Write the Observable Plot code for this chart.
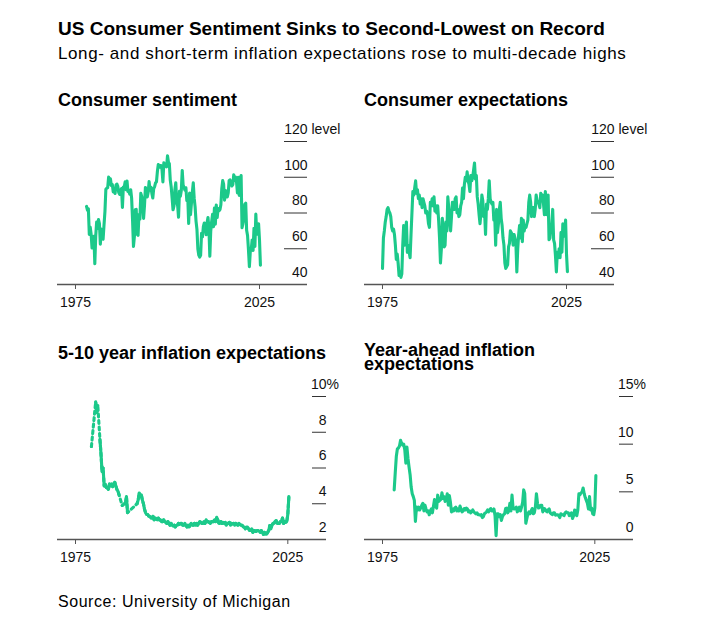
<!DOCTYPE html>
<html>
<head>
<meta charset="utf-8">
<script src="https://cdn.jsdelivr.net/npm/d3@7"></script>
<script src="https://cdn.jsdelivr.net/npm/@observablehq/plot@0.6"></script>
<style>
  body { margin: 0; background: #fff; }
  #root { position: relative; width: 716px; height: 629px; font-family: "Liberation Sans", Arial, sans-serif; color: #000; overflow: hidden; }
  .t { position: absolute; white-space: nowrap; line-height: 1; }
  .p { position: absolute; }
</style>
</head>
<body>
<div id="root">
  <div class="t" style="left:58px;top:19px;font-size:19px;font-weight:bold;">US Consumer Sentiment Sinks to Second-Lowest on Record</div>
  <div class="t" style="left:58px;top:45px;font-size:17px;letter-spacing:0.6px;">Long- and short-term inflation expectations rose to multi-decade highs</div>

  <div class="t" style="left:58px;top:91px;font-size:18px;font-weight:bold;">Consumer sentiment</div>
  <div class="t" style="left:364px;top:91px;font-size:18px;font-weight:bold;">Consumer expectations</div>
  <div class="t" style="left:58px;top:344px;font-size:18px;font-weight:bold;">5-10 year inflation expectations</div>
  <div class="t" style="left:364px;top:342.5px;font-size:18px;font-weight:bold;white-space:normal;width:240px;line-height:14.5px;">Year-ahead inflation expectations</div>

  <div class="p" id="p1" style="left:40px;top:115px;"></div>
  <div class="p" id="p2" style="left:347px;top:115px;"></div>
  <div class="p" id="p3" style="left:40px;top:370px;"></div>
  <div class="p" id="p4" style="left:347px;top:370px;"></div>

  <div class="t" style="left:58px;top:593.5px;font-size:16px;letter-spacing:0.55px;">Source: University of Michigan</div>
</div>
<script>
// ---------------- Data (quarterly readings) ----------------
const xTicks = [1975, 2025];

// Consumer sentiment index, quarterly from 1978 Q1
const sentimentStart = 1978;
const sentimentValues = [
  83.7, 81.6, 82.4, 68.0,
  72.1, 68.1, 60.4, 62.1,
  67.0, 51.7, 67.3, 75.0,
  71.4, 76.3, 74.1, 62.5,
  71.0, 65.7, 65.4, 73.4,
  80.8, 93.3, 93.9, 94.2,
  100.1, 96.1, 99.1, 95.3,
  96.0, 91.8, 92.4, 90.9,
  95.6, 96.2, 94.9, 91.4,
  90.4, 92.4, 93.7, 83.1,
  94.6, 94.7, 97.4, 93.0,
  97.9, 92.0, 92.0, 90.5,
  93.0, 88.3, 76.4, 61.3,
  66.8, 81.8, 82.0, 68.1,
  67.5, 79.2, 76.6, 91.0,
  89.3, 85.6, 77.0, 84.2,
  94.3, 92.6, 89.0, 91.6,
  97.6, 92.7, 94.4, 91.0,
  88.4, 93.7, 94.7, 96.9,
  97.4, 103.2, 107.1, 105.6,
  106.6, 106.5, 104.4, 97.4,
  108.1, 106.8, 107.2, 105.8,
  112.0, 108.5, 107.6, 98.4,
  94.7, 88.4, 81.8, 83.9,
  93.0, 96.9, 86.1, 84.2,
  77.6, 92.1, 89.3, 92.6,
  103.8, 95.6, 94.2, 92.8,
  94.1, 86.9, 89.1, 74.2,
  91.2, 79.1, 85.4, 91.7,
  96.9, 88.3, 83.4, 75.5,
  70.8, 59.8, 56.4, 55.3,
  56.3, 68.7, 66.7, 72.5,
  74.4, 73.6, 67.8, 74.5,
  77.5, 71.5, 55.8, 69.9,
  75.3, 79.3, 72.3, 82.7,
  73.8, 84.5, 77.5, 82.5,
  81.2, 81.9, 84.6, 93.6,
  98.1, 96.1, 87.2, 92.6,
  92.0, 89.0, 91.2, 98.2,
  98.5, 97.1, 95.1, 95.9,
  101.4, 98.2, 100.1, 97.5,
  91.2, 100.0, 89.8, 99.3,
  101.0, 71.8, 74.1, 76.9,
  84.9, 85.5, 70.3, 67.4,
  59.4, 50.0, 58.6, 59.7,
  64.9, 59.0, 71.5, 61.3,
  79.4, 68.2, 70.1, 74.0,
  64.7, 50.8
];

// Index of consumer expectations, quarterly from 1975 Q1
const expectationsStart = 1975;
const expectationsValues = [
  49, 66, 70, 75,
  78, 82, 83, 81,
  80, 78, 72, 70,
  71, 68, 62, 54,
  57, 52, 45, 47,
  44, 46, 62, 73,
  62, 70, 75, 58,
  62, 58, 55, 68,
  80, 92, 90, 94,
  98, 91, 93, 88,
  90, 85, 88, 83,
  88, 86, 84, 80,
  81, 79, 74, 72,
  86, 84, 88, 84,
  89, 81, 84, 80,
  84, 76, 66, 52,
  60, 77, 72, 61,
  62, 75, 70, 89,
  83, 76, 70, 78,
  86, 84, 82, 88,
  89, 80, 82, 78,
  79, 84, 86, 94,
  88, 96, 100, 98,
  103, 98, 96, 92,
  101, 98, 100, 104,
  108, 99, 101, 89,
  85, 79, 74, 80,
  90, 87, 78, 80,
  68, 85, 82, 88,
  98, 88, 86, 85,
  86, 76, 78, 62,
  82, 69, 74, 82,
  86, 77, 73, 66,
  62, 52, 49, 50,
  51, 61, 63, 70,
  69, 68, 62, 68,
  66, 63, 47, 60,
  68, 73, 66, 77,
  64, 76, 70, 73,
  72, 74, 76, 86,
  90, 86, 78, 83,
  83, 78, 82, 90,
  87, 86, 85, 83,
  91, 88, 90, 85,
  79, 92, 79, 89,
  90, 65, 66, 72,
  74, 82, 65, 63,
  56, 47, 58, 55,
  60, 55, 69, 58,
  74, 67, 70, 76,
  57, 47.2
];

// 5-10 year inflation expectations (%), quarterly from 1978 Q4; null = no survey
const longRunStart = 1978.75;
const longRunValues = [
  7.2,
  null, null, null, 9.7,
  9.1, 9.5, null, 7.6,
  6.8, 5.8, 6.0, 5.0,
  5.1, 4.9, 4.9, 4.8,
  5.1, 5.0, 5.1, 4.95,
  5.1, 5.2, 5.0, 4.8,
  4.7, 4.5, null, null,
  3.9, null, 4.0, 4.0,
  4.4, 3.5, null, null,
  null, null, null, null,
  null, null, 4.0, 4.2,
  4.6, 4.4, 4.5, 4.2,
  4.0, 3.7, 3.5, 3.4,
  3.4, 3.3, 3.3, 3.2,
  3.2, 3.3, 3.1, 3.2,
  3.15, 3.1, 3.2, 3.1,
  3.1, 3.0, 3.0, 3.1,
  3.0, 2.96, 2.9, 3.0,
  2.9, 2.8, 2.9, 2.8,
  2.75, 2.8, 2.7, 2.8,
  2.8, 2.9, 2.85, 2.9,
  2.9, 2.8, 2.8, 2.9,
  2.8, 2.7, 2.8, 2.7,
  2.8, 2.9, 2.8, 2.8,
  2.9, 2.8, 2.9, 2.8,
  2.9, 3.0, 2.96, 2.9,
  2.9, 3.0, 2.9, 3.1,
  3.0, 3.0, 2.96, 2.9,
  3.0, 3.0, 3.0, 3.1,
  3.0, 3.24, 3.1, 2.9,
  2.9, 3.0, 2.9, 2.96,
  2.9, 2.96, 2.8, 2.9,
  2.9, 2.96, 2.8, 2.9,
  2.87, 2.9, 2.8, 2.9,
  2.85, 2.8, 2.9, 2.83,
  2.8, 2.8, 2.7, 2.7,
  2.6, 2.7, 2.7, 2.6,
  2.5, 2.5, 2.6, 2.4,
  2.5, 2.5, 2.45, 2.5,
  2.5, 2.46, 2.4, 2.5,
  2.4, 2.28, 2.4, 2.3,
  2.3, 2.4, 2.5, 2.78,
  2.6, 2.8, 2.9, 2.9,
  3.0, 3.06, 2.9, 2.9,
  2.9, 3.0, 3.0, 3.2,
  2.9, 3.0, 2.96, 3.0,
  3.4, 4.4
];

// Year-ahead inflation expectations (%), quarterly from 1977 Q4
const yearAheadStart = 1977.75;
const yearAheadValues = [
  5.2,
  7.0, 8.7, 9.5, 9.6,
  9.8, 10.4, 10.1, 9.9,
  10.0, 9.4, 8.0, 9.7,
  8.5, 7.6, 6.8, 5.5,
  4.8, 4.5, 4.1, 1.9,
  3.4, 3.1, 3.4, 3.1,
  3.3, 3.6, 3.8, 3.0,
  3.6, 3.2, 2.9, 3.0,
  2.6, 3.0, 3.2, 2.8,
  3.5, 4.2, 3.5, 3.3,
  4.65, 4.0, 4.1, 4.2,
  4.9, 4.3, 4.5, 4.0,
  4.2, 4.8, 3.6, 4.6,
  3.9, 2.9, 3.2, 3.0,
  3.3, 3.4, 3.0, 3.2,
  3.0, 3.5, 3.2, 2.9,
  3.0, 3.25, 3.1, 3.3,
  3.2, 2.9, 3.0, 2.8,
  2.9, 3.1, 2.9, 2.8,
  2.7, 2.8, 2.6, 2.6,
  2.55, 2.6, 2.3, 2.4,
  2.7, 2.8, 2.9, 3.1,
  2.9, 3.1, 3.25, 3.0,
  3.0, 3.2, 2.5, 0.4,
  2.7, 2.7, 2.4, 2.6,
  2.0, 2.4, 2.6, 2.7,
  3.25, 3.3, 2.8, 3.0,
  3.8, 3.0, 4.65, 3.3,
  3.2, 3.25, 3.4, 2.9,
  3.1, 3.4, 3.0, 3.4,
  3.9, 5.2, 4.8, 1.7,
  2.2, 2.7, 2.9, 2.7,
  3.0, 3.25, 2.7, 2.8,
  3.4, 4.8, 3.8, 3.3,
  3.4, 3.6, 3.6, 2.9,
  3.25, 3.2, 3.0, 2.9,
  3.1, 3.2, 2.8, 2.7,
  2.6, 2.8, 2.8, 2.55,
  2.6, 2.6, 2.5, 2.3,
  2.7, 2.6, 2.6, 2.5,
  2.8, 2.9, 2.8, 2.8,
  2.5, 2.6, 2.8, 2.2,
  2.5, 3.1, 3.0, 2.5,
  3.1, 4.8, 4.7, 4.9,
  5.0, 5.4, 4.8, 4.4,
  4.1, 3.8, 3.2, 4.5,
  3.1, 3.3, 2.7, 2.6,
  3.3, 6.7
];

// Y-axis ticks and labels
const sentimentTicks = [40, 60, 80, 100, 120];
const sentimentLabels = ["40", "60", "80", "100", "120"];
const expectationsTicks = [40, 60, 80, 100, 120];
const expectationsLabels = ["40", "60", "80", "100", "120"];
const longRunTicks = [2, 4, 6, 8, 10];
const longRunLabels = ["2", "4", "6", "8", "10"];
const yearAheadTicks = [0, 5, 10, 15];
const yearAheadLabels = ["0", "5", "10", "15"];

// ---------------- Drawing ----------------
const green = "#1cc98a";

function panel({values, start, ticks, labels, unit, unitGap, xDomain, tickLen, marginRight, dotted}) {
  const data = values.map((v, i) => ({x: start + i / 4, y: v}));
  const present = data.filter(d => d.y != null);
  const W = 320, H = 200, mL = 17, mT = 26, mB = 31;
  const frameW = W - mL - marginRight;
  const yDomain = [ticks[0], ticks[ticks.length - 1]];
  return Plot.plot({
    width: W, height: H,
    marginLeft: mL, marginRight, marginTop: mT, marginBottom: mB,
    style: {fontFamily: '"Liberation Sans", Arial, sans-serif', fontSize: "14px", color: "#111", background: "transparent", overflow: "visible"},
    x: {domain: xDomain},
    y: {domain: yDomain, axis: null},
    marks: [
      Plot.ruleY(ticks.slice(1), {insetLeft: frameW - tickLen, stroke: "#333", strokeWidth: 1}),
      Plot.ruleY([ticks[0]], {stroke: "#555", strokeWidth: 1.3}),
      Plot.text(ticks, {y: d => d, text: labels, frameAnchor: "right", textAnchor: "end", dy: -12, fill: "#111"}),
      Plot.text([ticks[ticks.length - 1]], {y: d => d, text: [unit], frameAnchor: "right", textAnchor: "start", dx: unitGap, dy: -12, fill: "#111"}),
      Plot.axisX({ticks: xTicks, tickFormat: d => String(d), tickSize: 5, tickPadding: 8, stroke: "#555", label: null}),
      dotted ? Plot.line(present, {x: "x", y: "y", stroke: green, strokeWidth: 3.1, strokeDasharray: "3,3.5"}) : null,
      Plot.line(data, {x: "x", y: "y", stroke: green, strokeWidth: 3.1, strokeLinejoin: "round"})
    ]
  });
}

document.getElementById("p1").append(panel({
  values: sentimentValues, start: sentimentStart, ticks: sentimentTicks, labels: sentimentLabels,
  unit: "level", unitGap: 4, xDomain: [1970.11, 2038.04], tickLen: 23, marginRight: 53
}));
document.getElementById("p2").append(panel({
  values: expectationsValues, start: expectationsStart, ticks: expectationsTicks, labels: expectationsLabels,
  unit: "level", unitGap: 4, xDomain: [1970.11, 2038.04], tickLen: 23, marginRight: 53
}));
document.getElementById("p3").append(panel({
  values: longRunValues, start: longRunStart, ticks: longRunTicks, labels: longRunLabels,
  unit: "%", unitGap: 0, xDomain: [1970.76, 2034.11], tickLen: 14, marginRight: 34, dotted: true
}));
document.getElementById("p4").append(panel({
  values: yearAheadValues, start: yearAheadStart, ticks: yearAheadTicks, labels: yearAheadLabels,
  unit: "%", unitGap: 0, xDomain: [1970.76, 2034.11], tickLen: 14, marginRight: 34
}));
</script>
</body>
</html>
